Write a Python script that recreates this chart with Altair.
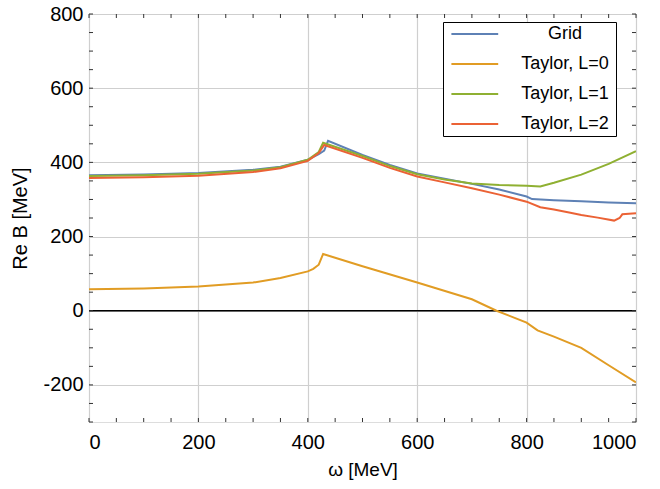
import altair as alt
import pandas as pd

# ---- data ----
grid_w = [0, 100, 200, 300, 350, 400, 420, 430, 437, 500, 550, 600, 650, 700, 750, 800, 810, 850, 900, 950, 1000]
grid_v = [365, 367, 371, 380, 388, 407, 422, 432, 458, 420, 393, 370, 356, 342, 327, 308, 301, 298, 295, 292, 290]

t0_w = [0, 100, 200, 300, 350, 400, 410, 420, 428, 500, 600, 700, 745, 800, 820, 850, 900, 950, 1000]
t0_v = [58, 60, 65, 76, 88, 106, 113, 124, 153, 120, 76, 31, 0, -32, -53, -70, -100, -147, -193]

t1_w = [0, 100, 200, 300, 350, 400, 420, 428, 500, 550, 600, 650, 700, 750, 800, 825, 850, 900, 950, 1000]
t1_v = [363, 365, 369, 378, 387, 407, 428, 453, 417, 390, 368, 354, 343, 339, 337, 335, 345, 367, 396, 430]

t2_w = [0, 100, 200, 300, 350, 400, 420, 430, 500, 550, 600, 650, 700, 750, 800, 825, 850, 880, 900, 930, 960, 970, 975, 1000]
t2_v = [358, 360, 364, 374, 384, 404, 425, 447, 412, 385, 362, 346, 330, 313, 294, 279, 273, 264, 258, 251, 243, 250, 260, 263]

series_names = ["Grid", "Taylor, L=0", "Taylor, L=1", "Taylor, L=2"]
series_colors = ["#5E81B5", "#E19C24", "#8FB032", "#EB6235"]

x_major = [0, 200, 400, 600, 800, 1000]
y_major = [-200, 0, 200, 400, 600, 800]
x_minor = list(range(0, 1001, 50))
y_minor = list(range(-300, 801, 50))

W, H = 547, 408

rows = []
for name, ws, vs in zip(series_names, [grid_w, t0_w, t1_w, t2_w], [grid_v, t0_v, t1_v, t2_v]):
    for w, v in zip(ws, vs):
        rows.append({"omega": w, "B": v, "series": name})
df = pd.DataFrame(rows)

xs = alt.Scale(domain=[0, 1000], nice=False, zero=False)
ys = alt.Scale(domain=[-300, 800], nice=False, zero=False)

lbl = "datum.value < 0 ? '-' + abs(datum.value) : '' + datum.value"

x_axis = alt.Axis(title="ω [MeV]", values=x_major, grid=True, gridColor="#cfcfcf", gridWidth=1.2,
                  domain=False, ticks=False, labelFontSize=20, labelPadding=10, labelExpr=lbl,
                  titleFontSize=19, titlePadding=8, titleFontWeight="normal", labelColor="black",
                  titleColor="black")
y_axis = alt.Axis(title="Re B [MeV]", values=y_major, grid=True, gridColor="#cfcfcf", gridWidth=1.2,
                  domain=False, ticks=False, labelFontSize=20, labelPadding=6, labelExpr=lbl,
                  titleFontSize=20, titlePadding=12, titleFontWeight="normal", labelColor="black",
                  titleColor="black")

zero = alt.Chart(pd.DataFrame({"y": [0]})).mark_rule(color="black", strokeWidth=1.6).encode(
    y=alt.Y("y:Q", scale=ys, axis=y_axis)
)

lines = alt.Chart(df).mark_line(strokeWidth=2, clip=True).encode(
    x=alt.X("omega:Q", scale=xs, axis=x_axis),
    y=alt.Y("B:Q", scale=ys, axis=y_axis),
    color=alt.Color("series:N",
                    scale=alt.Scale(domain=series_names, range=series_colors),
                    sort=series_names,
                    legend=alt.Legend(title="\u00a0", titleOrient="right", titlePadding=4,
                                      titleFontSize=18,
                                      orient="none", legendX=354, legendY=8,
                                      strokeColor="black", fillColor="white", padding=3,
                                      symbolType="M-0.6,0H7.2", symbolStrokeWidth=2, symbolSize=144,
                                      labelFontSize=18, labelAlign="center", labelOffset=101,
                                      labelColor="black", rowPadding=12, labelLimit=300)),
)

xt = pd.DataFrame({"v": x_minor})
yt = pd.DataFrame({"v": y_minor})

tick_color = "#333333"
bottom_ticks = alt.Chart(xt).mark_rule(color=tick_color, strokeWidth=1).encode(
    x=alt.X("v:Q", scale=xs), y=alt.value(H), y2=alt.value(H - 4))
top_ticks = alt.Chart(xt).mark_rule(color=tick_color, strokeWidth=1).encode(
    x=alt.X("v:Q", scale=xs), y=alt.value(0), y2=alt.value(4))
left_ticks = alt.Chart(yt).mark_rule(color=tick_color, strokeWidth=1).encode(
    y=alt.Y("v:Q", scale=ys), x=alt.value(0), x2=alt.value(4))
right_ticks = alt.Chart(yt).mark_rule(color=tick_color, strokeWidth=1).encode(
    y=alt.Y("v:Q", scale=ys), x=alt.value(W), x2=alt.value(W - 4))

chart = alt.layer(zero, lines, bottom_ticks, top_ticks, left_ticks, right_ticks).properties(
    width=W, height=H,
    autosize=alt.AutoSizeParams(type="none"),
    padding={"left": 89, "top": 14, "right": 24, "bottom": 67},
).configure_view(
    stroke="black", strokeWidth=1.2
).configure(
    font="Liberation Sans", background="white"
)

chart.save("out.html", embed_options={"renderer": "svg", "actions": False})
